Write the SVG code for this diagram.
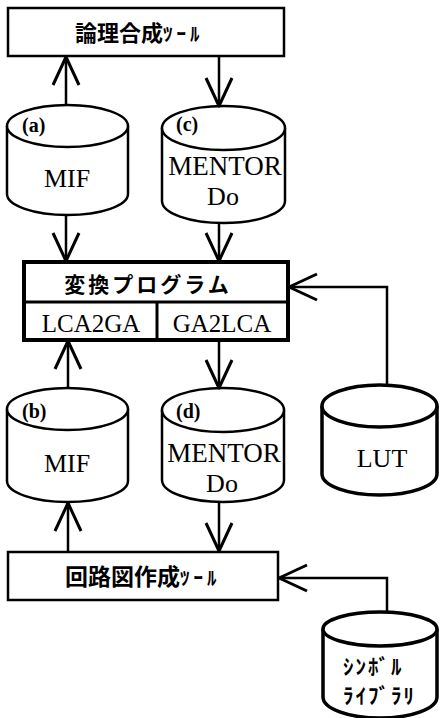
<svg xmlns="http://www.w3.org/2000/svg" width="440" height="718" viewBox="0 0 440 718">
<style>
.box{fill:#fff;stroke:#000;stroke-width:2.5}
.thick{fill:#fff;stroke:#000;stroke-width:4}
.cyl{fill:#fff;stroke:#000;stroke-width:2.5}
.cylb{fill:#fff;stroke:#000;stroke-width:3.5}
.ser{font-family:"Liberation Serif","Times New Roman",serif;fill:#000}
.jp{font-family:"Noto Sans CJK JP","Noto Sans",sans-serif;font-weight:bold;fill:#000}
.lbl{font-family:"Liberation Serif",serif;font-weight:bold;font-size:20px;fill:#000}
.con{fill:none;stroke:#000;stroke-width:2.5;marker-end:url(#ah)}
</style>
<defs>
<marker id="ah" markerUnits="userSpaceOnUse" viewBox="0 0 32 30" markerWidth="32" markerHeight="30" refX="30" refY="15" orient="auto">
<path d="M2,2 L30,15 L2,28" fill="none" stroke="#000" stroke-width="3" stroke-linejoin="round"/>
</marker>
</defs>

<g id="logic-tool">
<rect class="box" x="8" y="8" width="276" height="48"/>
<text class="jp" x="75" y="41" font-size="22">論理合成<tspan font-size="19" letter-spacing="4">ﾂｰﾙ</tspan></text>
</g>

<g id="mif-a">
<path class="cyl" d="M7,126 L7,194 A60.5,21 0 0 0 128,194 L128,126"/>
<ellipse class="cyl" cx="67.5" cy="126" rx="60.5" ry="21"/>
<text class="lbl" x="22" y="132">(a)</text>
<text class="ser" x="67" y="187" font-size="26" text-anchor="middle">MIF</text>
</g>

<g id="mentor-c">
<path class="cyl" d="M162,128 L162,201 A61.5,22 0 0 0 285,201 L285,128"/>
<ellipse class="cyl" cx="223.5" cy="128" rx="61.5" ry="22"/>
<text class="lbl" x="176" y="131">(c)</text>
<text class="ser" x="225" y="175" font-size="27" text-anchor="middle">MENTOR</text>
<text class="ser" x="223" y="205" font-size="26" text-anchor="middle">Do</text>
</g>

<g id="converter">
<rect class="thick" x="24" y="262" width="264" height="78"/>
<line x1="24" y1="302" x2="288" y2="302" stroke="#000" stroke-width="3"/>
<line x1="157" y1="302" x2="157" y2="340" stroke="#000" stroke-width="3"/>
<text class="jp" x="148" y="292" font-size="21" text-anchor="middle" letter-spacing="3">変換プログラム</text>
<text class="ser" x="91" y="332" font-size="25" text-anchor="middle">LCA2GA</text>
<text class="ser" x="222" y="332" font-size="25" text-anchor="middle">GA2LCA</text>
</g>

<g id="mif-b">
<path class="cyl" d="M7,409 L7,481 A60.5,21 0 0 0 128,481 L128,409"/>
<ellipse class="cyl" cx="67.5" cy="409" rx="60.5" ry="21"/>
<text class="lbl" x="22" y="418">(b)</text>
<text class="ser" x="67" y="472" font-size="26" text-anchor="middle">MIF</text>
</g>

<g id="mentor-d">
<path class="cyl" d="M162,410 L162,480 A61,22 0 0 0 284,480 L284,410"/>
<ellipse class="cyl" cx="223" cy="410" rx="61" ry="22"/>
<text class="lbl" x="176" y="418">(d)</text>
<text class="ser" x="224" y="462" font-size="27" text-anchor="middle">MENTOR</text>
<text class="ser" x="222" y="492" font-size="26" text-anchor="middle">Do</text>
</g>

<g id="lut">
<path class="cylb" d="M322,406 L322,474 A57.5,21 0 0 0 437,474 L437,406"/>
<ellipse class="cylb" cx="379.5" cy="406" rx="57.5" ry="21"/>
<text class="ser" x="382" y="467" font-size="26" text-anchor="middle">LUT</text>
</g>

<g id="schematic-tool">
<rect class="box" x="8" y="552" width="270" height="48"/>
<text class="jp" x="65" y="585" font-size="23">回路図作成<tspan font-size="19" letter-spacing="4">ﾂｰﾙ</tspan></text>
</g>

<g id="symbol-lib">
<path class="cylb" d="M323,629 L323,697 A57,21 0 0 0 437,697 L437,629"/>
<ellipse class="cylb" cx="380" cy="629" rx="57" ry="17"/>
<text class="jp" x="343" y="674" font-size="21" letter-spacing="2">ｼﾝﾎﾞﾙ</text>
<text class="jp" x="343" y="703" font-size="21" letter-spacing="2">ﾗｲﾌﾞﾗﾘ</text>
</g>

<g id="connectors">
<path class="con" d="M66,105 L66,57"/>
<path class="con" d="M219,56 L219,106"/>
<path class="con" d="M66,215 L66,261"/>
<path class="con" d="M219,223 L219,261"/>
<path class="con" d="M387,385 L387,287 L289,287"/>
<path class="con" d="M68,388 L68,341"/>
<path class="con" d="M219,341 L219,388"/>
<path class="con" d="M68,552 L68,503"/>
<path class="con" d="M219,502 L219,551"/>
<path class="con" d="M387,612 L387,578 L279,578"/>
</g>
</svg>
